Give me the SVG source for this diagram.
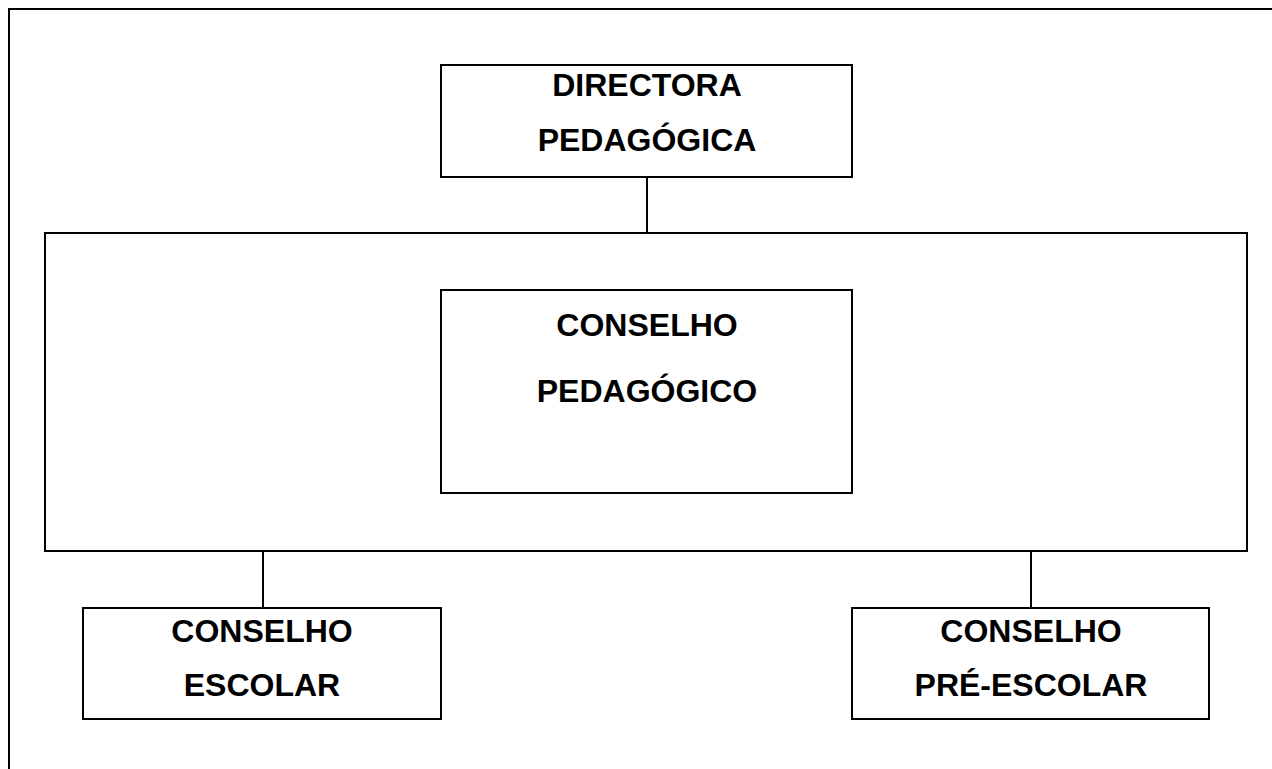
<svg xmlns="http://www.w3.org/2000/svg" width="1272" height="769" viewBox="0 0 1272 769">
<style>
.box{fill:none;stroke:#000;stroke-width:2}
.ln{stroke:#000;stroke-width:2;fill:none}
.t{font-family:"Liberation Sans",Arial,sans-serif;font-weight:bold;font-size:32px;text-anchor:middle;fill:#000}
</style>
<rect width="1272" height="769" fill="#fff"/>
<g id="frame"><path class="ln" d="M9,769 V9 H1280"/></g>
<g id="connectors">
<line class="ln" x1="647" y1="177" x2="647" y2="233"/>
<line class="ln" x1="263" y1="551" x2="263" y2="608"/>
<line class="ln" x1="1031" y1="551" x2="1031" y2="608"/>
</g>
<g id="container"><rect class="box" x="45" y="233" width="1202" height="318"/></g>
<g id="directora"><rect class="box" x="441" y="65" width="411" height="112"/>
<text class="t" x="647" y="96">DIRECTORA</text><text class="t" x="647" y="151">PEDAGÓGICA</text></g>
<g id="conselho-pedagogico"><rect class="box" x="441" y="290" width="411" height="203"/>
<text class="t" x="647" y="336">CONSELHO</text><text class="t" x="647" y="402">PEDAGÓGICO</text></g>
<g id="conselho-escolar"><rect class="box" x="83" y="608" width="358" height="111"/>
<text class="t" x="262" y="642">CONSELHO</text><text class="t" x="262" y="696">ESCOLAR</text></g>
<g id="conselho-pre-escolar"><rect class="box" x="852" y="608" width="357" height="111"/>
<text class="t" x="1031" y="642">CONSELHO</text><text class="t" x="1031" y="696">PRÉ-ESCOLAR</text></g>
</svg>
